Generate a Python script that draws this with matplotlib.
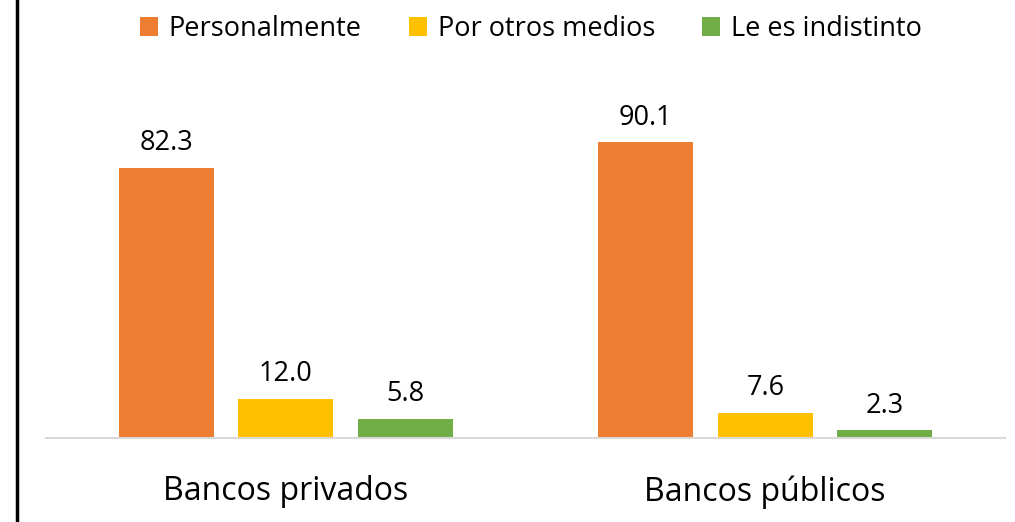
import matplotlib.pyplot as plt
from matplotlib.lines import Line2D
import numpy as np

plt.rcParams["font.family"] = ["Open Sans", "DejaVu Sans"]

categories = ["Bancos privados", "Bancos públicos"]
series = ["Personalmente", "Por otros medios", "Le es indistinto"]
personalmente = [82.3, 90.1]
otros_medios = [12.0, 7.6]
indistinto = [5.8, 2.3]
colors = ["#ED7D31", "#FFC000", "#70AD47"]

fig = plt.figure(figsize=(10.15, 5.22), dpi=100)
ax = fig.add_axes([46 / 1015, (522 - 438) / 522, 959 / 1015, 328 / 522])

x = np.arange(len(categories))
width = 0.198
offset = 0.249
for i, (name, vals) in enumerate(zip(series, [personalmente, otros_medios, indistinto])):
    pos = x + (i - 1) * offset
    bars = ax.bar(pos, vals, width, color=colors[i], label=name, zorder=2)
    for b, v in zip(bars, vals):
        ax.text(b.get_x() + b.get_width() / 2, v + 3.3, f"{v:.1f}",
                ha="center", va="bottom", fontsize=19.5)

ax.set_xlim(-0.5, 1.5)
ax.set_ylim(0, 100)
ax.set_yticks([])
ax.set_xticks(x)
ax.set_xticklabels(categories, fontsize=23)
ax.tick_params(axis="x", length=0, pad=27)
for s in ["top", "right", "left"]:
    ax.spines[s].set_visible(False)
ax.spines["bottom"].set_color("#D9D9D9")
ax.spines["bottom"].set_linewidth(1.5)

fig.legend(loc="upper center", bbox_to_anchor=(531 / 1015, 1.018), ncol=3,
           frameon=False, fontsize=19.5, handlelength=0.65, handleheight=0.65,
           handletextpad=0.4, columnspacing=1.75)

fig.add_artist(Line2D([16.5 / 1015, 16.5 / 1015], [0, 1], color="black", lw=2.5,
                      transform=fig.transFigure))

fig.savefig("out.png", dpi=100)
